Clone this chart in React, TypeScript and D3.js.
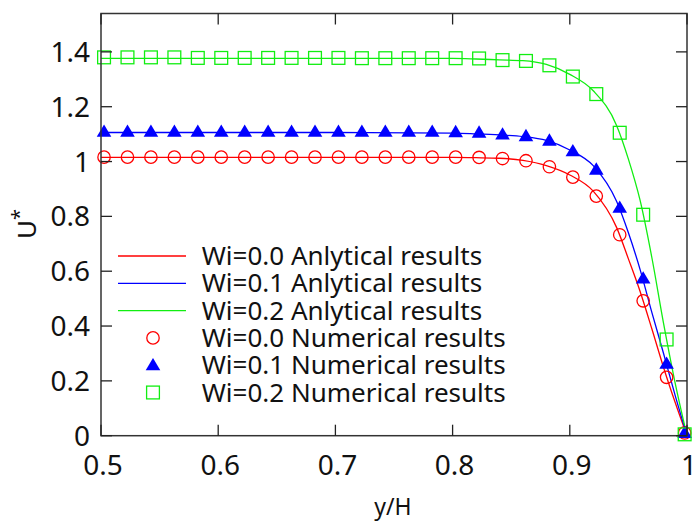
import React from "react";
import * as d3 from "d3";

// Numerical sample positions (y/H) and velocity U* for each Weissenberg number
const xNum = [0.5026, 0.5226, 0.5426, 0.5626, 0.5826, 0.6026, 0.6226, 0.6426, 0.6626, 0.6826, 0.7026, 0.7226, 0.7426, 0.7626, 0.7826, 0.8026, 0.8226, 0.8426, 0.8626, 0.8826, 0.9026, 0.9226, 0.9426, 0.9626, 0.9826, 0.998];
const numWi00 = [1.016, 1.016, 1.016, 1.016, 1.016, 1.016, 1.016, 1.016, 1.016, 1.016, 1.016, 1.016, 1.016, 1.016, 1.016, 1.016, 1.015, 1.011, 1.003, 0.981, 0.943, 0.874, 0.733, 0.492, 0.213, 0.01];
const numWi01 = [1.105, 1.105, 1.105, 1.105, 1.105, 1.105, 1.105, 1.105, 1.105, 1.105, 1.105, 1.105, 1.105, 1.105, 1.105, 1.104, 1.102, 1.095, 1.089, 1.073, 1.034, 0.967, 0.828, 0.570, 0.259, 0.007];
const numWi02 = [1.380, 1.380, 1.380, 1.380, 1.378, 1.378, 1.378, 1.378, 1.378, 1.378, 1.378, 1.377, 1.377, 1.377, 1.377, 1.377, 1.376, 1.370, 1.367, 1.351, 1.310, 1.246, 1.105, 0.806, 0.351, 0.005];

// Analytical profiles
const xAna = [0.5, 0.6, 0.7, 0.8, 0.82, 0.84, 0.86, 0.88, 0.9, 0.92, 0.94, 0.95, 0.96, 0.97, 0.98, 0.99, 1.0];
const anaWi00 = [1.015, 1.015, 1.015, 1.015, 1.014, 1.012, 1.004, 0.985, 0.951, 0.892, 0.759, 0.645, 0.526, 0.39, 0.249, 0.12, 0];
const anaWi01 = [1.106, 1.106, 1.106, 1.104, 1.101, 1.097, 1.091, 1.077, 1.042, 0.985, 0.854, 0.74, 0.606, 0.45, 0.30, 0.145, 0];
const anaWi02 = [1.376, 1.376, 1.376, 1.376, 1.374, 1.371, 1.368, 1.354, 1.318, 1.258, 1.131, 1.009, 0.858, 0.65, 0.41, 0.19, 0];

const xTicks = [0.5, 0.6, 0.7, 0.8, 0.9, 1];
const yTicks = [0, 0.2, 0.4, 0.6, 0.8, 1, 1.2, 1.4];

const legendLabels = [
  "Wi=0.0 Anlytical results",
  "Wi=0.1 Anlytical results",
  "Wi=0.2 Anlytical results",
  "Wi=0.0 Numerical results",
  "Wi=0.1 Numerical results",
  "Wi=0.2 Numerical results",
];

const RED = "#ff0000";
const BLUE = "#0000ff";
const GREEN = "#11ee11";
const FONT = "'Noto Sans', sans-serif";

const W = 692;
const H = 521;
const L = 101, R = 687, T = 13.5, B = 435.7;

const x = d3.scaleLinear().domain([0.5, 1]).range([L, R]);
const y = d3.scaleLinear().domain([0, 1.54]).range([B, T]);

const line = d3
  .line<[number, number]>()
  .x((d) => x(d[0]))
  .y((d) => y(d[1]))
  .curve(d3.curveMonotoneX);

const fmt = (v: number) => (v === 0 || v === 1 ? String(v) : v.toFixed(1));

function Circle({ cx, cy }: { cx: number; cy: number }) {
  return <circle cx={cx} cy={cy} r={6.2} fill="none" stroke={RED} strokeWidth={1.3} />;
}
function Tri({ cx, cy }: { cx: number; cy: number }) {
  const w = 7.3, up = 8.3, dn = 4.1;
  return <path d={`M${cx},${cy - up}L${cx + w},${cy + dn}L${cx - w},${cy + dn}Z`} fill={BLUE} />;
}
function Sq({ cx, cy }: { cx: number; cy: number }) {
  return <rect x={cx - 6.4} y={cy - 6.4} width={12.8} height={12.8} fill="none" stroke={GREEN} strokeWidth={1.3} />;
}

export default function App() {
  const tickLen = 11;
  const anaSeries = [
    { xs: xAna, ys: anaWi00, color: RED },
    { xs: xAna, ys: anaWi01, color: BLUE },
    { xs: xAna, ys: anaWi02, color: GREEN },
  ];
  const legendY0 = 256;
  const legendDy = 27.3;
  return (
    <svg width={W} height={H} style={{ position: "absolute", left: 0, top: 0, background: "#fff" }} fontFamily={FONT}>
      <rect x={0} y={0} width={W} height={H} fill="#fff" />
      {/* analytical curves */}
      {anaSeries.map((s, k) => (
        <path
          key={k}
          d={line(s.xs.map((v, i) => [v, s.ys[i]] as [number, number])) || ""}
          fill="none"
          stroke={s.color}
          strokeWidth={1.3}
        />
      ))}
      {/* numerical markers */}
      {xNum.map((v, i) => <Circle key={"c" + i} cx={x(v)} cy={y(numWi00[i])} />)}
      {xNum.map((v, i) => <Tri key={"t" + i} cx={x(v)} cy={y(numWi01[i])} />)}
      {xNum.map((v, i) => <Sq key={"s" + i} cx={x(v)} cy={y(numWi02[i])} />)}

      {/* frame and mirrored ticks */}
      <rect x={L} y={T} width={R - L} height={B - T} fill="none" stroke="#333" strokeWidth={1.5} />
      {xTicks.map((t) => (
        <g key={"xt" + t}>
          <line x1={x(t)} x2={x(t)} y1={B} y2={B - tickLen} stroke="#222" strokeWidth={1.3} />
          <line x1={x(t)} x2={x(t)} y1={T} y2={T + tickLen} stroke="#222" strokeWidth={1.3} />
          <text x={x(t) + 2} y={475} textAnchor="middle" fontSize={28} fill="#111">
            {fmt(t)}
          </text>
        </g>
      ))}
      {yTicks.map((t) => (
        <g key={"yt" + t}>
          <line x1={L} x2={L + tickLen} y1={y(t)} y2={y(t)} stroke="#222" strokeWidth={1.3} />
          <line x1={R} x2={R - tickLen} y1={y(t)} y2={y(t)} stroke="#222" strokeWidth={1.3} />
          <text x={90} y={y(t) + 10} textAnchor="end" fontSize={28} fill="#111">
            {fmt(t)}
          </text>
        </g>
      ))}

      {/* axis titles */}
      <text x={393} y={515} textAnchor="middle" fontSize={23} fill="#111">
        y/H
      </text>
      <text transform="translate(36,224) rotate(-90)" textAnchor="middle" fontSize={26} fill="#111">
        U<tspan dy={-10} fontSize={20}>*</tspan>
      </text>

      {/* legend */}
      {legendLabels.map((lab, i) => {
        const cy = legendY0 + i * legendDy;
        const cx = 153;
        let sym: React.ReactNode = null;
        if (i === 0) sym = <line x1={118} x2={186} y1={cy} y2={cy} stroke={RED} strokeWidth={1.3} />;
        if (i === 1) sym = <line x1={118} x2={186} y1={cy} y2={cy} stroke={BLUE} strokeWidth={1.3} />;
        if (i === 2) sym = <line x1={118} x2={186} y1={cy} y2={cy} stroke={GREEN} strokeWidth={1.3} />;
        if (i === 3) sym = <Circle cx={cx} cy={cy} />;
        if (i === 4) sym = <Tri cx={cx} cy={cy + 1} />;
        if (i === 5) sym = <Sq cx={cx} cy={cy} />;
        return (
          <g key={"lg" + i}>
            {sym}
            <text x={201.7} y={cy + 9} fontSize={26} fill="#111">
              {lab}
            </text>
          </g>
        );
      })}
    </svg>
  );
}
